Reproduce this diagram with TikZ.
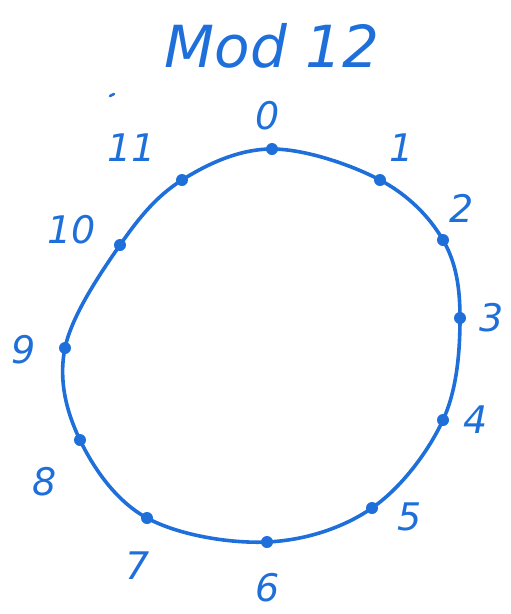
\documentclass[tikz,border=0pt]{standalone}
\usepackage{fontspec}
\setmainfont{DejaVu Sans}
\definecolor{ink}{HTML}{1E6FD9}
\begin{document}
\begin{tikzpicture}[x=1pt,y=-1pt,
  curve/.style={draw=ink,line width=3.6pt},
  mark dot/.style={circle,fill=ink,inner sep=0pt,minimum size=12pt},
  lbl/.style={text=ink,inner sep=1pt,font=\fontsize{38}{42}\selectfont\itshape}]
\useasboundingbox (0,0) rectangle (511,614);
\coordinate (c0) at (272,149);
\coordinate (c1) at (380,180);
\coordinate (c2) at (443,240);
\coordinate (c3) at (460,318);
\coordinate (c4) at (443,420);
\coordinate (c5) at (372,508);
\coordinate (c6) at (267,542);
\coordinate (c7) at (147,518);
\coordinate (c8) at (80,440);
\coordinate (c9) at (65,348);
\coordinate (c10) at (120,245);
\coordinate (c11) at (182,180);
\draw[curve] plot[smooth cycle,tension=0.6] coordinates {(c0) (c1) (c2) (c3) (c4) (c5) (c6) (c7) (c8) (c9) (c10) (c11)};
\foreach \i in {0,...,11} \node[mark dot] (p\i) at (c\i) {};
\node[lbl] (l0) at (268,116) {0};
\node[lbl] (l1) at (402,148) {1};
\node[lbl] (l2) at (462,208) {2};
\node[lbl] (l3) at (492,318) {3};
\node[lbl] (l4) at (476,420) {4};
\node[lbl] (l5) at (410,517) {5};
\node[lbl] (l6) at (268,588) {6};
\node[lbl] (l7) at (138,566) {7};
\node[lbl] (l8) at (45,482) {8};
\node[lbl] (l9) at (24,350) {9};
\node[lbl] (l10) at (72,230) {10};
\node[lbl] (l11) at (132,148) {11};
\node[lbl,font=\fontsize{58}{64}\selectfont\itshape] (title) at (272,46) {Mod 12};
\coordinate (s1) at (110,96);
\coordinate (s2) at (114,94);
\draw[ink,line width=2.5pt,line cap=round] (s1) -- (s2);
\end{tikzpicture}
\end{document}
